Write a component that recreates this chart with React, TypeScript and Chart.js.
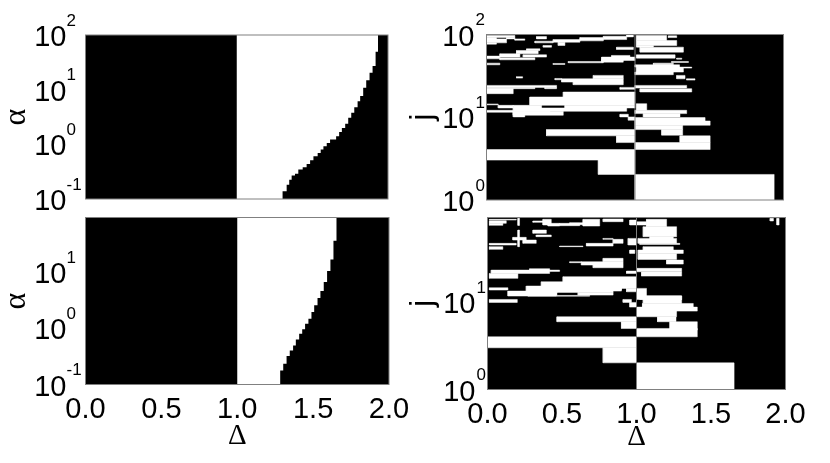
import React, { useEffect, useRef } from "react";
import { Chart, registerables } from "chart.js";

Chart.register(...registerables);

const deltaTicks = [0, 0.5, 1, 1.5, 2];
const alphaTicksTop = [0.1, 1, 10, 100];
const alphaTicksBottom = [0.1, 1, 10];
const jTicksTop = [1, 10, 100];
const jTicksBottom = [1, 10];

// Right boundary of the white band, read from top to bottom: delta holds down to alpha.
const topLeftDelta = [1.934, 1.918, 1.898, 1.878, 1.856, 1.836, 1.816, 1.799, 1.777, 1.757, 1.737, 1.717, 1.695, 1.677, 1.657, 1.617, 1.595, 1.573, 1.555, 1.535, 1.507, 1.485, 1.462, 1.436, 1.407, 1.385, 1.363, 1.347, 1.33, 1.303];
const topLeftAlpha = [49.5, 27, 20.4, 14.8, 10.8, 7.62, 6.17, 4.79, 3.77, 3.05, 2.37, 2, 1.69, 1.41, 1.22, 1.06, 0.923, 0.802, 0.697, 0.605, 0.512, 0.438, 0.38, 0.345, 0.291, 0.268, 0.226, 0.183, 0.138, 0.1];
const bottomLeftDelta = [1.654, 1.634, 1.614, 1.592, 1.57, 1.548, 1.529, 1.507, 1.489, 1.469, 1.447, 1.428, 1.408, 1.386, 1.368, 1.346, 1.325, 1.303, 1.283];
const bottomLeftAlpha = [36.2, 16.8, 10.5, 6.71, 4.63, 3.48, 2.57, 1.95, 1.49, 1.21, 0.96, 0.8, 0.635, 0.497, 0.405, 0.321, 0.234, 0.178, 0.1];

// White cells: [log10 j low, log10 j high, delta start, delta end]
const topRightCells = [
  [1.963, 1.988, 0, 0.191], [1.947, 1.963, 0, 0.067], [1.947, 1.963, 0.135, 0.191], [1.899, 1.947, 0, 0.135], [1.883, 1.899, 0, 0.067],
  [1.947, 1.975, 0.337, 0.404], [1.931, 1.947, 0.191, 0.258],
  [1.899, 1.919, 0.326, 0.449], [1.907, 1.939, 0.449, 0.629], [1.923, 1.963, 0.629, 0.787], [1.939, 1.979, 0.787, 0.944], [1.971, 1.996, 0.944, 0.989],
  [1.867, 1.907, 0.483, 0.528], [1.847, 1.867, 0.382, 0.438],
  [1.927, 1.988, 1.011, 1.213], [1.867, 1.927, 1.011, 1.281], [1.787, 1.847, 1.034, 1.326], [1.847, 1.867, 1.011, 1.124], [1.963, 1.984, 1.225, 1.281],
  [1.819, 1.847, 0.876, 0.989],
  [1.706, 1.739, 0, 0.09], [1.727, 1.767, 0.09, 0.225], [1.767, 1.807, 0.202, 0.348], [1.807, 1.827, 0.27, 0.36],
  [1.634, 1.654, 0, 0.09], [1.694, 1.718, 0.09, 0.326], [1.727, 1.755, 0.247, 0.404],
  [1.686, 1.727, 0.775, 1], [1.727, 1.747, 0.843, 0.966],
  [1.658, 1.674, 0.551, 0.787], [1.638, 1.65, 0.449, 0.528], [1.666, 1.694, 0.775, 0.921],
  [1.714, 1.755, 1.011, 1.27], [1.702, 1.714, 1.281, 1.315], [1.662, 1.674, 1.247, 1.36],
  [1.546, 1.606, 1.011, 1.326], [1.514, 1.546, 1, 1.258], [1.606, 1.634, 1, 1.3], [1.634, 1.654, 1.124, 1.258],
  [1.473, 1.49, 0.202, 0.243],
  [1.465, 1.506, 0.719, 0.921], [1.425, 1.465, 0.506, 0.921], [1.453, 1.469, 0.461, 0.506], [1.393, 1.425, 0.584, 0.921],
  [1.465, 1.506, 1.281, 1.337], [1.449, 1.465, 1.348, 1.404], [1.594, 1.606, 1.326, 1.382],
  [1.361, 1.385, 0, 0.472], [1.345, 1.361, 0, 0.326], [1.345, 1.361, 0.393, 0.472], [1.285, 1.345, 0, 0.18],
  [1.337, 1.361, 0.899, 1], [1.353, 1.385, 1, 1.348], [1.305, 1.345, 1.034, 1.382],
  [1.245, 1.305, 0.517, 1], [1.144, 1.245, 0.292, 1], [1.112, 1.144, 0.18, 0.371], [1.112, 1.144, 0.528, 1],
  [1.072, 1.112, 0.18, 0.944], [1.024, 1.072, 0.18, 0.517], [1.15, 1.16, 0, 0.079], [1.112, 1.144, 0.079, 0.18],
  [1.06, 1.084, 0, 0.18], [1.004, 1.072, 0.18, 0.258], [1.044, 1.072, 0.258, 0.427],
  [1.004, 1.036, 0.899, 0.955], [0.964, 1.004, 0.955, 1],
  [1.044, 1.084, 1, 1.348], [1.084, 1.164, 1.011, 1.079], [1.004, 1.044, 1.056, 1.303],
  [0.955, 0.996, 1, 1.472], [0.903, 0.955, 1, 1.506], [0.851, 0.903, 1, 1.321], [0.783, 0.851, 1.18, 1.321],
  [0.775, 0.851, 0.404, 1], [0.694, 0.775, 0.876, 1], [0.694, 0.775, 1.303, 1.506], [0.61, 0.694, 1, 1.506],
  [0.482, 0.61, 0, 1], [0.309, 0.482, 0.753, 1], [0, 0.309, 1, 1.937],
];

const bottomRightCells = [
  [1.946, 1.954, 0.013, 0.193], [1.908, 1.938, 0.013, 0.126], [1.885, 1.908, 0.013, 0.103],
  [1.919, 1.935, 0.305, 0.383], [1.889, 1.954, 0.372, 0.428],
  [1.881, 1.908, 0.484, 0.619], [1.877, 1.908, 0.406, 0.484], [1.877, 1.954, 0.641, 0.753], [1.892, 1.915, 0.552, 0.641], [1.927, 1.958, 0.776, 0.91],
  [1.889, 1.946, 0.955, 1], [1.889, 1.927, 1, 1.067],
  [1.869, 1.954, 1.067, 1.202], [1.755, 1.869, 1.045, 1.269], [1.724, 1.755, 1.09, 1.247],
  [1.716, 1.747, 0.17, 0.26], [1.659, 1.678, 0.013, 0.193], [1.609, 1.64, 0.013, 0.103], [1.678, 1.716, 0.238, 0.327], [1.755, 1.774, 0.327, 0.428],
  [1.793, 1.831, 0.305, 0.395],
  [1.64, 1.831, 0.204, 0.215], [1.884, 1.965, 0.204, 0.215],
  [1.724, 1.735, 0.776, 0.843], [1.647, 1.678, 0.664, 0.843], [1.678, 1.724, 0.843, 0.91], [1.64, 1.647, 0.484, 0.641],
  [1.659, 1.735, 0.944, 1], [1.563, 1.601, 0.955, 0.989],
  [1.678, 1.735, 1.011, 1.269], [1.666, 1.678, 1.022, 1.291],
  [1.601, 1.64, 1.045, 1.247], [1.563, 1.601, 1.011, 1.314], [1.494, 1.563, 1.011, 1.269], [1.44, 1.486, 1.202, 1.314],
  [1.467, 1.506, 0.776, 0.91], [1.429, 1.467, 0.63, 0.91], [1.398, 1.429, 0.709, 0.91], [1.456, 1.467, 0.552, 0.63],
  [1.333, 1.371, 0.025, 0.417], [1.276, 1.333, 0.013, 0.204], [1.371, 1.387, 0.283, 0.417], [1.356, 1.371, 0.417, 0.484], [1.333, 1.36, 0.933, 1],
  [1.352, 1.391, 1, 1.303], [1.302, 1.348, 1.034, 1.303],
  [1.199, 1.295, 0.507, 1], [1.161, 1.237, 0.361, 1], [1.13, 1.188, 0.26, 0.899], [1.084, 1.13, 0.26, 0.466], [1.084, 1.115, 0.608, 0.843], [1.115, 1.13, 0.466, 0.843],
  [1.073, 1.13, 0.137, 0.462], [1.142, 1.168, 0.013, 0.137], [1.142, 1.172, 0.843, 0.865], [1.142, 1.172, 0.877, 0.899], [1.122, 1.161, 0.933, 1],
  [1.046, 1.161, 1, 1.067], [1.034, 1.073, 1.022, 1.303],
  [1.034, 1.076, 1.0, 1.303], [1.072, 1.08, 0.271, 0.686], [1, 1.034, 0.013, 0.2],
  [1, 1.034, 0.91, 0.966], [0.946, 1, 0.955, 1],
  [0.988, 1.038, 1.045, 1.303], [0.946, 0.988, 1.04, 1.381], [0.9, 0.946, 1, 1.408], [0.835, 0.9, 1, 1.269], [0.778, 0.835, 1.141, 1.265],
  [0.778, 0.835, 0.466, 1], [0.701, 0.778, 0.899, 1], [0.682, 0.778, 1.224, 1.408], [0.605, 0.701, 1, 1.408],
  [0.479, 0.605, 0, 1], [0.306, 0.479, 0.776, 1], [0, 0.306, 1, 1.655],
  [1.935, 1.965, 1.897, 1.919], [1.889, 1.965, 1.942, 1.957],
];

type Pt = { x: number; y: number };

function bandShape(deltas: number[], alphas: number[], top: number, bottom: number): Pt[] {
  const pts: Pt[] = [{ x: 1, y: bottom }, { x: 1, y: top }];
  let prev = top;
  deltas.forEach((d, i) => {
    pts.push({ x: d, y: prev });
    pts.push({ x: d, y: alphas[i] });
    prev = alphas[i];
  });
  return pts;
}

function cellShape(c: number[]): Pt[] {
  const lo = Math.pow(10, c[0]);
  const hi = Math.pow(10, c[1]);
  return [{ x: c[2], y: lo }, { x: c[3], y: lo }, { x: c[3], y: hi }, { x: c[2], y: hi }, { x: c[2], y: lo }];
}

type Panel = {
  box: [number, number, number, number];
  area: [number, number, number, number];
  yMin: number;
  yMax: number;
  yTicks: number[];
  yTitle: string;
  yTitleFont: any;
  yTitlePad: number;
  tickPad: number;
  expGap: number;
  showX: boolean;
  xPad: number;
  xTitlePad: number;
  shapes: Pt[][];
  cellBorder: number;
  gridLine: boolean;
};

const sansFont = "'Liberation Sans', Arial, sans-serif";
const serifFont = "'Liberation Serif', serif";

const panels: Panel[] = [
  {
    box: [0, 0, 415, 225], area: [85.5, 35, 388, 199], yMin: 0.1, yMax: 100, yTicks: alphaTicksTop,
    yTitle: "α", yTitleFont: { family: serifFont, size: 32 }, yTitlePad: -3, tickPad: 19, expGap: 19, showX: false, xPad: 0, xTitlePad: 0,
    shapes: [bandShape(topLeftDelta, topLeftAlpha, 100, 0.1)], cellBorder: 0, gridLine: false,
  },
  {
    box: [0, 205, 415, 258], area: [85.5, 217.5, 389, 384.5], yMin: 0.1, yMax: 94.4, yTicks: alphaTicksBottom,
    yTitle: "α", yTitleFont: { family: serifFont, size: 32 }, yTitlePad: -3, tickPad: 19, expGap: 19, showX: true, xPad: 8, xTitlePad: 9,
    shapes: [bandShape(bottomLeftDelta, bottomLeftAlpha, 94.4, 0.1)], cellBorder: 0, gridLine: false,
  },
  {
    box: [400, 0, 430, 225], area: [486.5, 34.5, 783.5, 200], yMin: 1, yMax: 100, yTicks: jTicksTop,
    yTitle: "j", yTitleFont: { family: sansFont, size: 32 }, yTitlePad: 4, tickPad: 12, expGap: 11, showX: false, xPad: 0, xTitlePad: 0,
    shapes: topRightCells.map(cellShape), cellBorder: 0.5, gridLine: true,
  },
  {
    box: [400, 205, 430, 258], area: [487.5, 217.5, 785.5, 389.5], yMin: 1, yMax: 94.4, yTicks: jTicksBottom,
    yTitle: "j", yTitleFont: { family: sansFont, size: 32 }, yTitlePad: 4, tickPad: 12, expGap: 11, showX: true, xPad: 8, xTitlePad: 8,
    shapes: bottomRightCells.map(cellShape), cellBorder: 0.5, gridLine: true,
  },
];

const framePlugin = {
  id: "plotFrame",
  beforeDatasetsDraw(chart: any) {
    const { ctx, chartArea: a } = chart;
    ctx.save();
    ctx.fillStyle = "#000";
    ctx.fillRect(a.left, a.top, a.right - a.left, a.bottom - a.top);
    ctx.restore();
  },
  afterDraw(chart: any) {
    const { ctx, chartArea: a } = chart;
    const yScale = chart.scales.y;
    ctx.save();
    ctx.strokeStyle = "#808080";
    ctx.lineWidth = 1;
    ctx.strokeRect(a.left, a.top, a.right - a.left, a.bottom - a.top);
    ctx.fillStyle = "#000";
    ctx.font = "17px " + sansFont;
    ctx.textAlign = "left";
    ctx.textBaseline = "alphabetic";
    const gap = chart.options.plugins.plotFrame.exponentGap;
    yScale.ticks.forEach((t: any) => {
      const exp = String(Math.round(Math.log10(t.value)));
      ctx.fillText(exp, a.left - gap, yScale.getPixelForValue(t.value) - 9.5);
    });
    ctx.restore();
  },
};

function clearPadding(s: any) {
  s.paddingLeft = 0;
  s.paddingRight = 0;
  s.paddingTop = 0;
  s.paddingBottom = 0;
}

function PanelChart({ panel }: { panel: Panel }) {
  const ref = useRef<HTMLCanvasElement | null>(null);
  useEffect(() => {
    if (!ref.current) return;
    const [bx, by, bw, bh] = panel.box;
    const [l, t, r, b] = panel.area;
    const datasets: any[] = panel.shapes.map((shape) => ({
      data: shape,
      showLine: true,
      fill: "shape",
      backgroundColor: "#ffffff",
      borderColor: "#ffffff",
      borderWidth: panel.cellBorder,
      pointRadius: 0,
      tension: 0,
    }));
    if (panel.gridLine) {
      datasets.unshift({
        data: [{ x: 1, y: panel.yMin }, { x: 1, y: panel.yMax }],
        showLine: true,
        fill: false,
        borderColor: "#808080",
        borderWidth: 1,
        pointRadius: 0,
        tension: 0,
      });
    }
    const tickFontSize = 29;
    const chart = new Chart(ref.current, {
      type: "scatter",
      data: { datasets },
      options: {
        animation: false,
        responsive: false,
        events: [],
        layout: {
          padding: { left: 0, top: t - by, right: bx + bw - r, bottom: panel.showX ? 0 : by + bh - b },
        },
        plugins: {
          legend: { display: false },
          tooltip: { enabled: false },
          plotFrame: { exponentGap: panel.expGap },
        } as any,
        scales: {
          x: {
            type: "linear",
            min: 0,
            max: 2,
            grid: { display: false, drawTicks: false },
            border: { display: false },
            afterBuildTicks: (s: any) => { s.ticks = deltaTicks.map((v) => ({ value: v })); },
            afterFit: (s: any) => { s.height = panel.showX ? by + bh - b : 0; clearPadding(s); },
            ticks: {
              display: panel.showX,
              padding: panel.xPad,
              color: "#000",
              maxRotation: 0,
              autoSkip: false,
              font: { family: sansFont, size: tickFontSize },
              callback: (v: any) => Number(v).toFixed(1),
            },
            title: {
              display: panel.showX,
              text: "Δ",
              color: "#000",
              font: { family: serifFont, size: 29 },
              padding: { top: 0, bottom: panel.xTitlePad },
            },
          },
          y: {
            type: "logarithmic",
            min: panel.yMin,
            max: panel.yMax,
            grid: { display: false, drawTicks: false },
            border: { display: false },
            afterBuildTicks: (s: any) => { s.ticks = panel.yTicks.map((v) => ({ value: v })); },
            afterFit: (s: any) => { s.width = l - bx; clearPadding(s); },
            ticks: {
              padding: panel.tickPad,
              color: "#000",
              autoSkip: false,
              labelOffset: 3,
              font: { family: sansFont, size: tickFontSize },
              callback: () => "10",
            },
            title: {
              display: true,
              text: panel.yTitle,
              color: "#000",
              font: panel.yTitleFont,
              padding: { top: panel.yTitlePad, bottom: 0 },
            },
          },
        },
      } as any,
      plugins: [framePlugin],
    });
    return () => chart.destroy();
  }, [panel]);
  const [x, y, w, h] = panel.box;
  return (
    <canvas
      ref={ref}
      width={w}
      height={h}
      style={{ position: "absolute", left: x, top: y, width: w, height: h, display: "block" }}
    />
  );
}

export default function App() {
  return (
    <div style={{ position: "fixed", left: 0, top: 0, width: 830, height: 463, background: "#fff", overflow: "hidden" }}>
      {panels.map((p, i) => (
        <PanelChart key={i} panel={p} />
      ))}
    </div>
  );
}
